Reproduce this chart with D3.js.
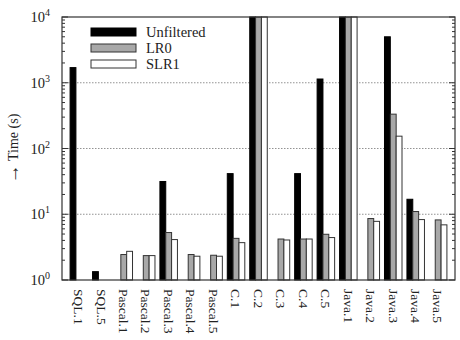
<!DOCTYPE html>
<html>
<head>
<meta charset="utf-8">
<script src="https://cdn.jsdelivr.net/npm/d3@7"></script>
<style>
  body { margin: 0; background: #fff; }
  text { font-family: "Liberation Serif", "DejaVu Serif", serif; fill: #222; }
</style>
</head>
<body>
<div id="chart"></div>
<script>
// data; null = no bar, values past 1e4 are clipped at the top
const categories = ["SQL.1", "SQL.5", "Pascal.1", "Pascal.2", "Pascal.3", "Pascal.4", "Pascal.5",
  "C.1", "C.2", "C.3", "C.4", "C.5", "Java.1", "Java.2", "Java.3", "Java.4", "Java.5"];
const unfiltered = [1700, 1.34, null, null, 31.5, null, null, 41.5, 20000, null, 41.5, 1140, 20000, null, 5000, 16.9, null];
const lr0 = [null, null, 2.44, 2.35, 5.27, 2.44, 2.38, 4.3, 20000, 4.2, 4.2, 4.96, 20000, 8.6, 333, 11, 8.2];
const slr1 = [null, null, 2.73, 2.35, 4.12, 2.3, 2.3, 3.7, 20000, 4.06, 4.2, 4.42, 20000, 7.8, 154, 8.3, 6.9];
const seriesNames = ["Unfiltered", "LR0", "SLR1"];
const yTicks = [1, 10, 100, 1000, 10000];

const W = 460, H = 340;
const margin = { top: 17, right: 5, bottom: 60, left: 62 };
const width = W - margin.left - margin.right;
const height = H - margin.top - margin.bottom;

const fills = ["#000000", "#a8a8a8", "#ffffff"];
const strokes = ["#000000", "#333333", "#333333"];

const svg = d3.select("#chart").append("svg")
    .attr("width", W)
    .attr("height", H);

const g = svg.append("g").attr("transform", `translate(${margin.left},${margin.top})`);

const x = d3.scaleLinear().domain([-0.75, categories.length - 0.25]).range([0, width]);
const y = d3.scaleLog().domain([1, 10000]).range([height, 0]).clamp(true);
const bw = 0.26;

// grid
g.selectAll(".grid")
    .data([10, 100, 1000])
    .enter().append("line")
    .attr("x1", 0).attr("x2", width)
    .attr("y1", d => y(d)).attr("y2", d => y(d))
    .attr("stroke", "#777").attr("stroke-width", 0.8)
    .attr("stroke-dasharray", "1.5,1.5");

// bars
const series = [unfiltered, lr0, slr1];
series.forEach((vals, s) => {
    const pts = vals.map((v, i) => ({ i: i, v: v })).filter(d => d.v != null);
    g.selectAll(".bar" + s)
        .data(pts)
        .enter().append("rect")
        .attr("x", d => x(d.i + (s - 1) * bw - bw / 2))
        .attr("width", x(bw) - x(0))
        .attr("y", d => y(d.v))
        .attr("height", d => height - y(d.v))
        .attr("fill", fills[s])
        .attr("stroke", strokes[s])
        .attr("stroke-width", 1);
});

// frame
g.append("rect")
    .attr("width", width).attr("height", height)
    .attr("fill", "none").attr("stroke", "#333").attr("stroke-width", 1.2);

// y ticks, inward on both sides
const minor = [];
for (let e = 0; e < 4; e++) for (let k = 2; k <= 9; k++) minor.push(k * Math.pow(10, e));
[[0, 1], [width, -1]].forEach(([x0, dir]) => {
    g.selectAll(null).data(yTicks).enter().append("line")
        .attr("x1", x0).attr("x2", x0 + dir * 6)
        .attr("y1", d => y(d)).attr("y2", d => y(d))
        .attr("stroke", "#333");
    g.selectAll(null).data(minor).enter().append("line")
        .attr("x1", x0).attr("x2", x0 + dir * 3)
        .attr("y1", d => y(d)).attr("y2", d => y(d))
        .attr("stroke", "#333");
});

// y tick labels as 10^n
const yl = g.selectAll(".ylab")
    .data(yTicks)
    .enter().append("text")
    .attr("text-anchor", "end")
    .attr("x", -12)
    .attr("y", d => y(d) + 5)
    .style("font-size", "14.5px");
yl.append("tspan").text("10");
yl.append("tspan")
    .attr("dy", -6)
    .style("font-size", "10px")
    .text(d => Math.round(Math.log10(d)));

// x labels, rotated
g.selectAll(".xlab")
    .data(categories)
    .enter().append("text")
    .attr("transform", (d, i) => `translate(${x(i)},${height + 9}) rotate(90)`)
    .attr("dy", "0.35em")
    .style("font-size", "13.5px")
    .text(d => d);

// y axis title
const yt = svg.append("text")
    .attr("transform", `translate(18,${margin.top + height / 2}) rotate(-90)`)
    .attr("text-anchor", "middle")
    .style("font-size", "14px");
yt.append("tspan").style("font-size", "19px").attr("dy", 1).text("\u2192");
yt.append("tspan").attr("dy", -1).text(" Time (s)");

// legend
const lg = g.append("g").attr("transform", "translate(29,11)");
seriesNames.forEach((name, s) => {
    lg.append("rect")
        .attr("x", 0).attr("y", s * 16)
        .attr("width", 45).attr("height", 8)
        .attr("fill", fills[s]).attr("stroke", strokes[s]);
    lg.append("text")
        .attr("x", 55).attr("y", s * 16 + 9)
        .style("font-size", "14.5px")
        .text(name);
});
</script>
</body>
</html>
